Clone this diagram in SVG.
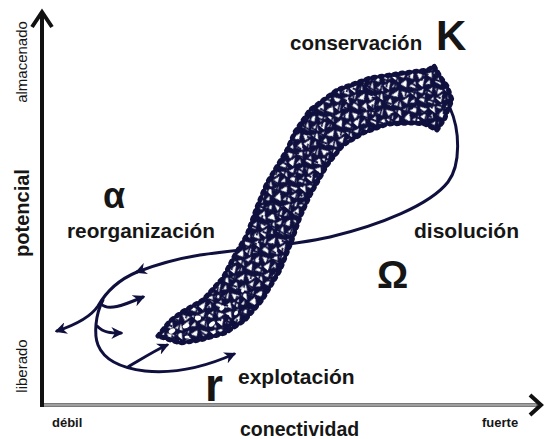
<svg xmlns="http://www.w3.org/2000/svg" width="545" height="439" viewBox="0 0 545 439">
<style>
.t{font-family:"Liberation Sans",Arial,sans-serif;fill:#161616}
.b{font-weight:bold}
.ln{fill:none;stroke:#10103f;stroke-width:3;stroke-linecap:round;stroke-linejoin:round}
</style>
<defs>
<marker id="ah" viewBox="0 0 10 10" refX="8" refY="5" markerWidth="12" markerHeight="12" markerUnits="userSpaceOnUse" orient="auto">
<path d="M0,0 L10,5 L0,10 L3,5 z" fill="#10103f"/>
</marker>
<pattern id="scr" width="24" height="24" patternUnits="userSpaceOnUse" patternTransform="rotate(-50)">
<rect width="24" height="24" fill="#10103f"/>
<g fill="#fff">
<polygon points="1,1 8.5,2.5 2.5,8.5"/>
<polygon points="10.5,1 19,3.5 13,7"/>
<polygon points="20,6 23.5,13.5 17,12"/>
<polygon points="5,9 12.5,10.5 8,16.5"/>
<polygon points="13,13 20.5,15.5 13,19.5"/>
<polygon points="1,14 6,17 1,22"/>
<polygon points="6.5,19 12.5,21.5 8,23.5"/>
<polygon points="17,20 23,20.5 20,23.5"/>
</g>
</pattern>
<pattern id="scr2" width="21" height="21" patternUnits="userSpaceOnUse" patternTransform="rotate(25)">
<path d="M0,5 L21,8 M4,0 L9,21 M14,0 L17,21 M0,15 L21,13" stroke="#10103f" stroke-width="1.8" fill="none"/>
</pattern>
<path id="band" d="M158,336 L170,321 L182,312 L203,300 L223,278 L235,255 L247,235 L257,207 L267,183 L287,150 L295,132 L310,110 L337,90 L370,78 L403,73 L428,70 L434,66 L441,78 L447,86 L452,100 L447,112 L445,118 L437,130 L425,124 L413,123 L387,124 L363,133 L343,145 L327,165 L310,195 L300,217 L292,240 L280,270 L262,300 L245,320 L225,333 L200,340 L180,343 Z"/>
</defs>
<rect width="545" height="439" fill="#fff"/>

<g id="axes">
<line x1="42" y1="405" x2="538" y2="405" stroke="#7a7a7a" stroke-width="4"/>
<line x1="44" y1="405" x2="536" y2="405" stroke="#c4c4c4" stroke-width="1.2"/>
<polyline points="530,395 541,405 530,415" fill="none" stroke="#111" stroke-width="4"/>
<line x1="42" y1="407" x2="42" y2="13" stroke="#111" stroke-width="4"/>
<polyline points="32,27 42,12 52,27" fill="none" stroke="#111" stroke-width="4"/>
</g>

<g id="axis-labels">
<text class="t" font-size="15" transform="translate(27,62) rotate(-90)" text-anchor="middle">almacenado</text>
<text class="t b" font-size="20" transform="translate(29,213) rotate(-90)" text-anchor="middle">potencial</text>
<text class="t" font-size="15" transform="translate(27,366) rotate(-90)" text-anchor="middle">liberado</text>
<text class="t b" font-size="13" x="52" y="427">débil</text>
<text class="t b" font-size="13" x="482" y="427">fuerte</text>
<text class="t b" font-size="19.5" x="240" y="436">conectividad</text>
</g>

<g id="connectors">
<path class="ln" d="M450,108 C460,130 461,165 448,182 C430,205 380,225 330,237 C290,246 240,249 200,255 C175,259 155,265 137,272" marker-end="url(#ah)"/>
<path class="ln" d="M137,272 C118,280 106,292 98,306 C90,318 75,325 57,331" marker-end="url(#ah)"/>
<path class="ln" d="M103,300 C95,315 94,335 98,345 C104,360 120,368 145,371 C175,374 205,367 234,354" marker-end="url(#ah)"/>
<path class="ln" d="M101,304 C108,311 122,306 143,297" marker-end="url(#ah)"/>
<path class="ln" d="M97,326 C104,333 111,333 121,333" marker-end="url(#ah)"/>
<path class="ln" d="M128,367 C140,360 152,352 167,345" marker-end="url(#ah)"/>
</g>

<g id="cycle">
<use href="#band" fill="url(#scr)" stroke="#10103f" stroke-width="3" stroke-linejoin="round"/>
<use href="#band" fill="url(#scr2)"/>
<use href="#band" fill="none" stroke="#10103f" stroke-width="5" stroke-dasharray="2 5" stroke-linecap="round"/>
<g fill="#fff">
<ellipse cx="172" cy="331" rx="3.5" ry="2.2" transform="rotate(-30 172 331)"/>
<ellipse cx="186" cy="326" rx="3.5" ry="2.2" transform="rotate(-20 186 326)"/>
<ellipse cx="198" cy="318" rx="3" ry="2.4"/>
<ellipse cx="212" cy="324" rx="3.5" ry="2" transform="rotate(-40 212 324)"/>
<ellipse cx="222" cy="308" rx="3" ry="2" transform="rotate(-50 222 308)"/>
<ellipse cx="187" cy="337" rx="2.5" ry="1.6"/>
<ellipse cx="236" cy="313" rx="2.5" ry="1.6" transform="rotate(-50 236 313)"/>
<ellipse cx="243" cy="290" rx="2.5" ry="1.6" transform="rotate(-60 243 290)"/>
</g>
</g>

<g id="phase-K">
<text class="t b" font-size="20.5" x="290" y="50">conservación</text>
<text class="t b" font-size="42" x="436" y="50">K</text>
</g>
<g id="phase-alpha">
<text class="t b" font-size="36" x="103" y="208">α</text>
<text class="t b" font-size="20.8" x="67" y="238">reorganización</text>
</g>
<g id="phase-omega">
<text class="t b" font-size="21" x="414" y="238">disolución</text>
<text class="t b" font-size="39" x="377" y="288">Ω</text>
</g>
<g id="phase-r">
<text class="t b" font-size="46" x="205" y="401">r</text>
<text class="t b" font-size="21" x="238" y="384">explotación</text>
</g>
</svg>
